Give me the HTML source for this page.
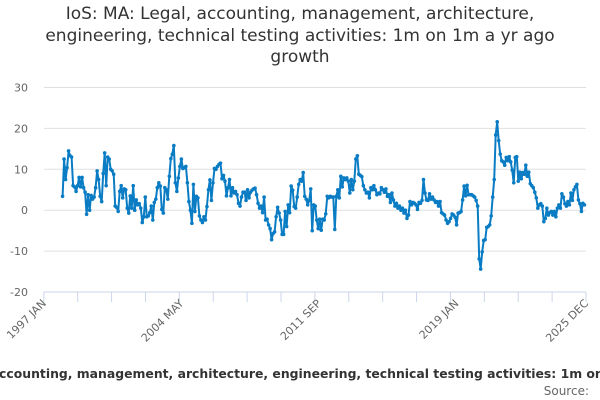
<!DOCTYPE html>
<html><head><meta charset="utf-8">
<style>
html,body{margin:0;background:#fff;width:600px;height:400px;overflow:hidden;font-family:"DejaVu Sans","Liberation Sans",sans-serif;}
#title{position:absolute;left:0;top:4px;width:600px;text-align:center;font-size:17px;line-height:21.5px;color:#333;}
#xwrap{position:absolute;left:0;width:600px;top:366px;height:18px;overflow:hidden;display:flex;justify-content:center;}
#xtitle{font-size:12.4px;font-weight:bold;color:#333;white-space:nowrap;flex:none;margin-left:26px;}
#source{position:absolute;right:11px;top:384px;font-size:12px;color:#666;}
svg{position:absolute;left:0;top:0;}
</style></head><body>
<div id="title">IoS: MA: Legal, accounting, management, architecture,<br>engineering, technical testing activities: 1m on 1m a yr ago<br>growth</div>
<svg id="chart" width="600" height="400"></svg>
<div id="xwrap"><div id="xtitle">IoS: MA: Legal, accounting, management, architecture, engineering, technical testing activities: 1m on 1m a yr ago growth</div></div>
<div id="source">Source:</div>
<script>
const yTicks=[30,20,10,0,-10,-20];
const xTickLabels=["1997 JAN","2004 MAY","2011 SEP","2019 JAN","2025 DEC"];
const xTickMonths=[0,88,176,264,347];
const startMonth=12, endMonth=346;
const values=[3.4,12.5,7.5,10.4,14.5,13.3,13,6,5.7,4.6,6,8,5.7,8,5.5,4.4,-1,3.8,0,3.6,2.7,3.2,5.5,9.6,7.5,3.4,2.1,9,14,6,13,12.5,10,9.6,8.8,1,0.7,-0.3,4.6,6,3,5.2,5,0.5,-0.7,3.5,0.5,6,0,2.5,1.3,1.6,0.5,-3,-1.6,3.2,-1.6,-1.4,-0.6,1,-2.4,1.9,2.7,5.5,6.7,5.9,0.2,-0.7,5.5,5,2.7,8.3,12.6,13.7,15.8,6.7,4.6,7.9,10.7,12.5,10.2,10.4,10.7,6.7,2.1,0,-3.2,6.3,-0.3,3.4,3,-1.4,-2.4,-3,-1.6,-2.4,0.9,5,7.4,2.4,6.7,10.2,10,10.7,11.2,11.5,7.7,8.5,7.1,3.5,5.5,
7.5,3.5,5.5,4.2,4.6,3.8,1.7,1,3.2,4.4,4.4,2.4,5,3,4.4,4.9,5.2,5.4,3.8,1.7,0.5,1,-0.6,3.2,-2.4,-2.2,-3.6,-4.5,-7.2,-5.7,-5.3,-1.6,0.7,-0.7,-2.4,-5.9,-5.9,-0.3,-4,1.3,-0.6,5.9,4.9,0.9,0.5,3.2,6.3,7.5,7.1,9.2,3.4,2.7,1.3,2.4,5.2,-5,1.3,1,-2.4,-4.5,-2.2,-4.9,-2.2,-2.4,-0.9,3.4,3,3.4,3.2,3.2,-4.7,3.4,5,3,8.3,5.7,7.9,7.5,7.9,7.1,4.2,7.5,5,7.1,12.5,13.3,8.8,8.5,8.2,6,5,4.2,4.4,3,5.5,5,6,5,3.8,4.2,4,5.5,5,4.4,5.2,3.4,3.8,1.9,4.2,2.5,1,1.7,0.5,1,0,0.5,-0.7,0,-2,-1.2,2.1,1.3,1.9,1.7,1.3,0.2,
1.9,1.7,2.4,7.5,4.2,2.5,2.4,4,2.7,3.2,2.5,1.9,2.1,1,2.1,-0.6,-0.9,-1.2,-2.4,-3.2,-2.8,-2,-0.9,-1.2,-1.7,-3.6,-0.7,-0.6,-0.3,2.5,5.9,3.5,6.1,3.8,3.8,3.8,3.5,3.2,2.4,1,-11.9,-14.4,-10.2,-7.4,-7.2,-4.2,-4,-3.6,-1.4,3.2,7.5,18.4,21.6,17,13.7,12.1,11.8,11,12.9,12.1,13.1,11.8,9.8,6.7,12.9,13.1,7.1,9.3,7.7,9.2,8.8,11,8.3,9.3,6.5,6,5.5,4.4,3,0.5,1.3,1.6,1,-2.8,-2,0.5,-1.2,-0.6,-0.3,-1.2,-0.3,-1.6,0.5,1.3,0.5,4,3.2,1.6,1,2.1,1.3,4.2,2.4,5,5.7,6.3,2.5,1.6,-0.3,1.7,1.3];

const svg=document.getElementById('chart');
const NS='http://www.w3.org/2000/svg';
const plotL=43.8, plotR=586, y30=87.5, yM20=292;
function xMonth(m){return plotL+(plotR-plotL)*m/347;}
function xIndex(i){return xMonth(startMonth+(endMonth-startMonth)*i/(values.length-1));}
function yScale(v){return y30+(30-v)*(yM20-y30)/50;}
function mk(tag,attrs){const e=document.createElementNS(NS,tag);for(const k in attrs)e.setAttribute(k,attrs[k]);svg.appendChild(e);return e;}

yTicks.forEach(t=>{
  if(t!==-20){
    const g=mk('line',{x1:plotL,x2:plotR,y1:yScale(t),y2:yScale(t),stroke:'#e0e0e0','stroke-width':1});
    
    
  }
  const tx=mk('text',{x:28,y:yScale(t)+4,'text-anchor':'end','font-size':11,fill:'#666','font-family':'DejaVu Sans, Liberation Sans, sans-serif'});
  tx.textContent=t;
  
  
});
const ax=mk('line',{x1:plotL,x2:plotR,y1:yM20,y2:yM20,stroke:'#ccd6eb','stroke-width':1});


for(let k=0;k<=16;k++){
  const xx=plotL+(plotR-plotL)*k/16;
  const tk=mk('line',{x1:xx,x2:xx,y1:yM20,y2:yM20+10,stroke:'#ccd6eb','stroke-width':1});
  
  
}
xTickLabels.forEach((lab,i)=>{
  const xx=xMonth(xTickMonths[i]);
  const t=mk('text',{x:xx+3,y:yM20+12,'text-anchor':'end','font-size':11,fill:'#666','font-family':'DejaVu Sans, Liberation Sans, sans-serif',transform:`rotate(-45 ${xx+3} ${yM20+12})`});
  t.textContent=lab;
  
  
});
const pts=values.map((v,i)=>xIndex(i).toFixed(1)+','+yScale(v).toFixed(1)).join(' ');
const line=mk('polyline',{points:pts,fill:'none',stroke:'#0a7cc4','stroke-width':2,'stroke-linejoin':'round'});


values.forEach((v,i)=>{
  const c=mk('circle',{cx:xIndex(i),cy:yScale(v),r:1.8,fill:'#0a7cc4'});
  
  
});
</script>
</body></html>
